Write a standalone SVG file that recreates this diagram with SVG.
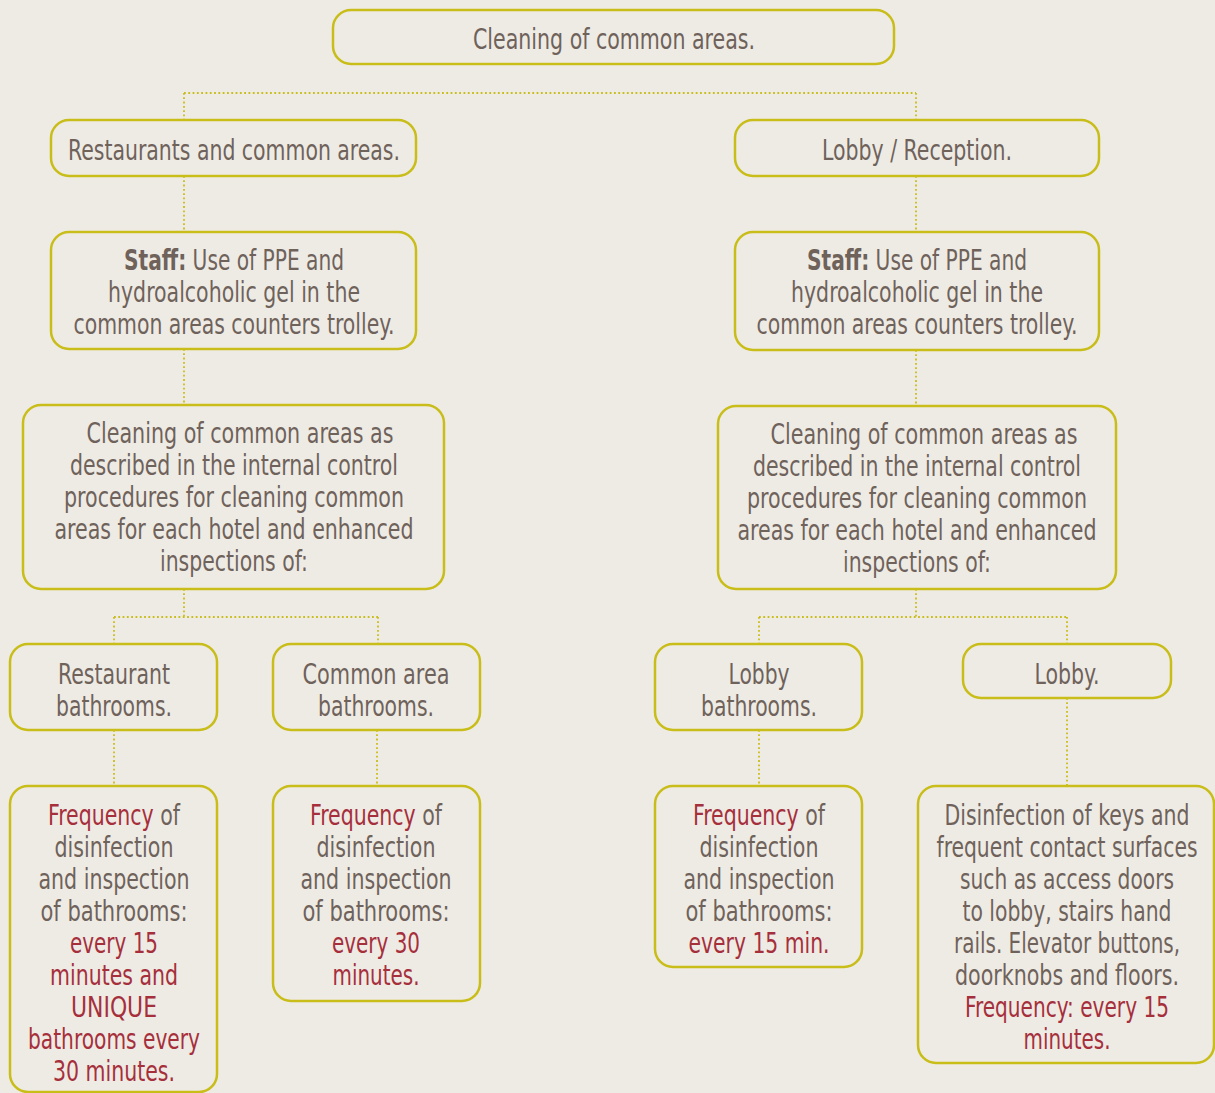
<svg xmlns="http://www.w3.org/2000/svg" width="1215" height="1093" viewBox="0 0 1215 1093">
<style>
.n{fill:#EEEBE4;stroke:#C9BD1A;stroke-width:2.5}
.t{font-family:"DejaVu Sans Condensed","DejaVu Sans",sans-serif;font-size:29px;fill:#6E625B;text-anchor:middle}
.r{fill:#A62F3C}
.b{font-weight:bold}
.c{fill:none;stroke:#C9BD1A;stroke-width:1.8;stroke-dasharray:1.8 2.5}
</style>
<rect width="1215" height="1093" fill="#EEEBE4"/>
<g id="connectors">
<path class="c" d="M184 93H916M184 93V120M916 93V120"/>
<path class="c" d="M184 176V232M916 176V232M184 349V405M916 350V406"/>
<path class="c" d="M184 589V617M114 617H378M114 617V644M378 617V644"/>
<path class="c" d="M916 589V617M759 617H1067M759 617V644M1067 617V644"/>
<path class="c" d="M114 730V786M377 730V786M759 730V786M1067 698V786"/>
</g>
<g id="n-top"><rect class="n" x="333" y="10" width="561" height="54" rx="18"/><text class="t" x="614" y="49" textLength="282" lengthAdjust="spacingAndGlyphs">Cleaning of common areas.</text></g>
<g id="n-restaurants"><rect class="n" x="51" y="120" width="365" height="56" rx="18"/><text class="t" x="234" y="160" textLength="332" lengthAdjust="spacingAndGlyphs">Restaurants and common areas.</text></g>
<g id="n-lobby-reception"><rect class="n" x="735" y="120" width="364" height="56" rx="18"/><text class="t" x="917" y="160" textLength="190" lengthAdjust="spacingAndGlyphs">Lobby / Reception.</text></g>
<g id="n-staff-left"><rect class="n" x="51" y="232" width="365" height="117" rx="18"/>
<text class="t" x="234" y="270" textLength="220" lengthAdjust="spacingAndGlyphs"><tspan class="b">Staff:</tspan> Use of PPE and</text>
<text class="t" x="234" y="302" textLength="252" lengthAdjust="spacingAndGlyphs">hydroalcoholic gel in the</text>
<text class="t" x="234" y="334" textLength="321" lengthAdjust="spacingAndGlyphs">common areas counters trolley.</text></g>
<g id="n-staff-right"><rect class="n" x="735" y="232" width="364" height="118" rx="18"/>
<text class="t" x="917" y="270" textLength="220" lengthAdjust="spacingAndGlyphs"><tspan class="b">Staff:</tspan> Use of PPE and</text>
<text class="t" x="917" y="302" textLength="252" lengthAdjust="spacingAndGlyphs">hydroalcoholic gel in the</text>
<text class="t" x="917" y="334" textLength="321" lengthAdjust="spacingAndGlyphs">common areas counters trolley.</text></g>
<g id="n-clean-left"><rect class="n" x="23" y="405" width="421" height="184" rx="18"/>
<text class="t" x="240" y="443" textLength="307" lengthAdjust="spacingAndGlyphs">Cleaning of common areas as</text>
<text class="t" x="234" y="475" textLength="328" lengthAdjust="spacingAndGlyphs">described in the internal control</text>
<text class="t" x="234" y="507" textLength="340" lengthAdjust="spacingAndGlyphs">procedures for cleaning common</text>
<text class="t" x="234" y="539" textLength="359" lengthAdjust="spacingAndGlyphs">areas for each hotel and enhanced</text>
<text class="t" x="234" y="571" textLength="148" lengthAdjust="spacingAndGlyphs">inspections of:</text></g>
<g id="n-clean-right"><rect class="n" x="718" y="406" width="398" height="183" rx="18"/>
<text class="t" x="924" y="444" textLength="307" lengthAdjust="spacingAndGlyphs">Cleaning of common areas as</text>
<text class="t" x="917" y="476" textLength="328" lengthAdjust="spacingAndGlyphs">described in the internal control</text>
<text class="t" x="917" y="508" textLength="340" lengthAdjust="spacingAndGlyphs">procedures for cleaning common</text>
<text class="t" x="917" y="540" textLength="359" lengthAdjust="spacingAndGlyphs">areas for each hotel and enhanced</text>
<text class="t" x="917" y="572" textLength="148" lengthAdjust="spacingAndGlyphs">inspections of:</text></g>
<g id="n-rest-bath"><rect class="n" x="10" y="644" width="207" height="86" rx="18"/>
<text class="t" x="114" y="684" textLength="112" lengthAdjust="spacingAndGlyphs">Restaurant</text><text class="t" x="114" y="716" textLength="116" lengthAdjust="spacingAndGlyphs">bathrooms.</text></g>
<g id="n-common-bath"><rect class="n" x="273" y="644" width="207" height="86" rx="18"/>
<text class="t" x="376" y="684" textLength="147" lengthAdjust="spacingAndGlyphs">Common area</text><text class="t" x="376" y="716" textLength="116" lengthAdjust="spacingAndGlyphs">bathrooms.</text></g>
<g id="n-lobby-bath"><rect class="n" x="655" y="644" width="207" height="86" rx="18"/>
<text class="t" x="759" y="684" textLength="61" lengthAdjust="spacingAndGlyphs">Lobby</text><text class="t" x="759" y="716" textLength="116" lengthAdjust="spacingAndGlyphs">bathrooms.</text></g>
<g id="n-lobby"><rect class="n" x="963" y="644" width="208" height="54" rx="18"/>
<text class="t" x="1067" y="684" textLength="65" lengthAdjust="spacingAndGlyphs">Lobby.</text></g>
<g id="n-freq1"><rect class="n" x="10" y="786" width="207" height="306" rx="18"/>
<text class="t" x="114" y="825" textLength="132" lengthAdjust="spacingAndGlyphs"><tspan class="r">Frequency</tspan> of</text>
<text class="t" x="114" y="857" textLength="119" lengthAdjust="spacingAndGlyphs">disinfection</text>
<text class="t" x="114" y="889" textLength="151" lengthAdjust="spacingAndGlyphs">and inspection</text>
<text class="t" x="114" y="921" textLength="147" lengthAdjust="spacingAndGlyphs">of bathrooms:</text>
<text class="t r" x="114" y="953" textLength="88" lengthAdjust="spacingAndGlyphs">every 15</text>
<text class="t r" x="114" y="985" textLength="128" lengthAdjust="spacingAndGlyphs">minutes and</text>
<text class="t r" x="114" y="1017" textLength="86" lengthAdjust="spacingAndGlyphs">UNIQUE</text>
<text class="t r" x="114" y="1049" textLength="172" lengthAdjust="spacingAndGlyphs">bathrooms every</text>
<text class="t r" x="114" y="1081" textLength="122" lengthAdjust="spacingAndGlyphs">30 minutes.</text></g>
<g id="n-freq2"><rect class="n" x="273" y="786" width="207" height="215" rx="18"/>
<text class="t" x="376" y="825" textLength="132" lengthAdjust="spacingAndGlyphs"><tspan class="r">Frequency</tspan> of</text>
<text class="t" x="376" y="857" textLength="119" lengthAdjust="spacingAndGlyphs">disinfection</text>
<text class="t" x="376" y="889" textLength="151" lengthAdjust="spacingAndGlyphs">and inspection</text>
<text class="t" x="376" y="921" textLength="147" lengthAdjust="spacingAndGlyphs">of bathrooms:</text>
<text class="t r" x="376" y="953" textLength="88" lengthAdjust="spacingAndGlyphs">every 30</text>
<text class="t r" x="376" y="985" textLength="87" lengthAdjust="spacingAndGlyphs">minutes.</text></g>
<g id="n-freq3"><rect class="n" x="655" y="786" width="207" height="181" rx="18"/>
<text class="t" x="759" y="825" textLength="132" lengthAdjust="spacingAndGlyphs"><tspan class="r">Frequency</tspan> of</text>
<text class="t" x="759" y="857" textLength="119" lengthAdjust="spacingAndGlyphs">disinfection</text>
<text class="t" x="759" y="889" textLength="151" lengthAdjust="spacingAndGlyphs">and inspection</text>
<text class="t" x="759" y="921" textLength="147" lengthAdjust="spacingAndGlyphs">of bathrooms:</text>
<text class="t r" x="759" y="953" textLength="141" lengthAdjust="spacingAndGlyphs">every 15 min.</text></g>
<g id="n-disinfection"><rect class="n" x="918" y="786" width="296" height="277" rx="18"/>
<text class="t" x="1067" y="825" textLength="245" lengthAdjust="spacingAndGlyphs">Disinfection of keys and</text>
<text class="t" x="1067" y="857" textLength="261" lengthAdjust="spacingAndGlyphs">frequent contact surfaces</text>
<text class="t" x="1067" y="889" textLength="214" lengthAdjust="spacingAndGlyphs">such as access doors</text>
<text class="t" x="1067" y="921" textLength="209" lengthAdjust="spacingAndGlyphs">to lobby, stairs hand</text>
<text class="t" x="1067" y="953" textLength="226" lengthAdjust="spacingAndGlyphs">rails. Elevator buttons,</text>
<text class="t" x="1067" y="985" textLength="224" lengthAdjust="spacingAndGlyphs">doorknobs and floors.</text>
<text class="t r" x="1067" y="1017" textLength="204" lengthAdjust="spacingAndGlyphs">Frequency: every 15</text>
<text class="t r" x="1067" y="1049" textLength="87" lengthAdjust="spacingAndGlyphs">minutes.</text></g>
</svg>
